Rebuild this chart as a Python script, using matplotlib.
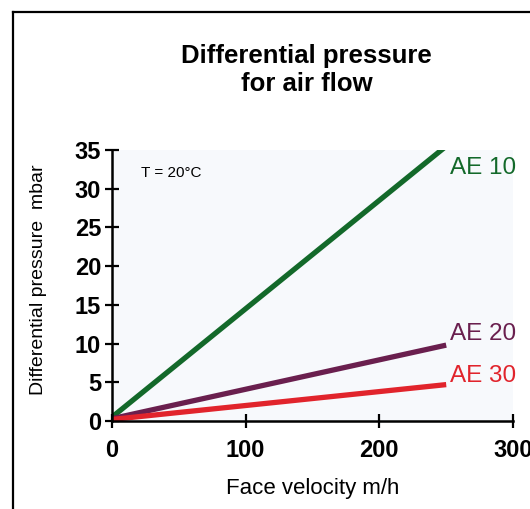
import matplotlib.pyplot as plt
from matplotlib.lines import Line2D

# face velocity (m/h) and differential pressure (mbar)
velocity = [0, 250]
ae10 = [0.5, 35.5]
ae20 = [0.3, 9.8]
ae30 = [0.2, 4.7]
series_names = ["AE 10", "AE 20", "AE 30"]
label_pos = [(253, 32.7), (253, 11.2), (253, 5.8)]
colors = ["#13692a", "#6a1f4e", "#e1242c"]

xticks = [0, 100, 200, 300]
yticks = [0, 5, 10, 15, 20, 25, 30, 35]

plt.rcParams['font.family'] = ['Liberation Sans', 'DejaVu Sans']

fig = plt.figure(figsize=(5.3, 5.09), dpi=100)
ax = fig.add_axes([0.2113, 0.1729, 0.7567, 0.5324])
ax.set_facecolor("#f7f9fc")

for ys, name, pos, col in zip([ae10, ae20, ae30], series_names, label_pos, colors):
    ax.plot(velocity, ys, color=col, lw=3.8, solid_capstyle='butt')
    ax.text(pos[0], pos[1], name, color=col, fontsize=17.5, va='center', ha='left')

ax.text(22, 32, "T = 20°C", fontsize=11, va='center')

ax.set_xlim(0, 300)
ax.set_ylim(0, 35)
ax.set_xticks(xticks)
ax.set_yticks(yticks)
ax.tick_params(direction='inout', length=9.5, width=1.6, labelsize=17)
ax.tick_params(axis='y', pad=3)
ax.tick_params(axis='x', pad=8)
for lab in ax.get_xticklabels() + ax.get_yticklabels():
    lab.set_fontweight('bold')

for s in ['top', 'right']:
    ax.spines[s].set_visible(False)
for s in ['left', 'bottom']:
    ax.spines[s].set_linewidth(1.8)

ax.set_xlabel("Face velocity m/h", fontsize=16, labelpad=12)
ax.set_ylabel("Differential pressure  mbar", fontsize=14)
ax.yaxis.set_label_coords(-0.163, 0.52)

fig.text(0.579, 0.862, "Differential pressure\nfor air flow", ha='center', va='center',
         fontsize=18.5, fontweight='bold', linespacing=1.2)

# scanned frame around the chart
fig.add_artist(Line2D([13/530, 13/530], [0, 1 - 12/509], color='black', lw=1.6))
fig.add_artist(Line2D([13/530, 1], [1 - 12/509, 1 - 12/509], color='black', lw=1.6))

fig.savefig("out.png", dpi=100, facecolor='white')
